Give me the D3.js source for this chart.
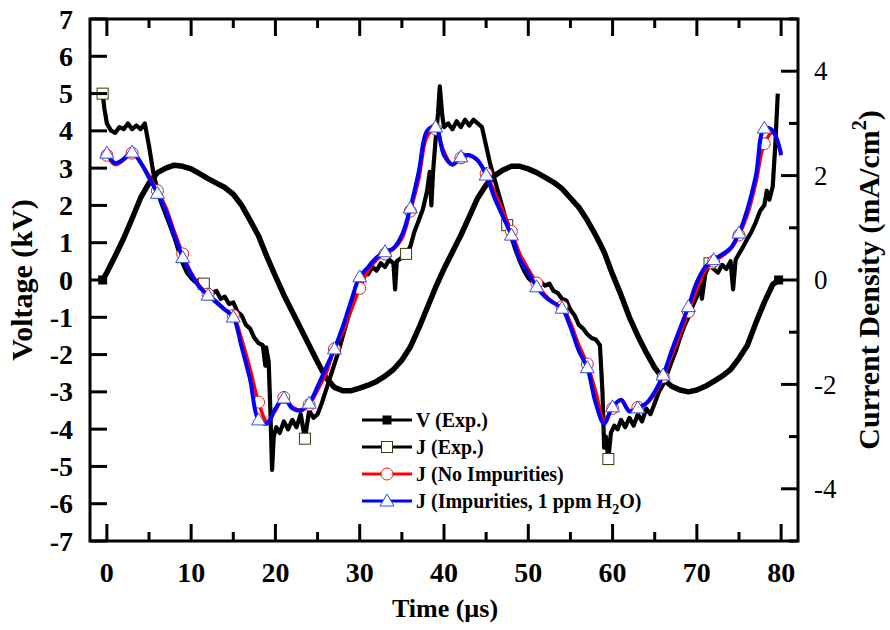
<!DOCTYPE html>
<html>
<head>
<meta charset="utf-8">
<script src="https://cdn.jsdelivr.net/npm/d3@7"></script>
<style>
  body { margin: 0; background: #fff; }
</style>
</head>
<body>
<svg id="chart" width="890" height="630"></svg>
<script>
// ---- Voltage, experiment (kV) ----
const vTime = [-0.5, 0, 1, 2, 3, 4, 5, 6, 7, 8, 9, 10, 11, 12, 13, 14, 15, 16, 17, 18, 19,
  20, 21, 22, 23, 24, 25, 26, 27, 28, 29, 30, 31, 32, 33, 34, 35, 36, 37, 38, 39,
  40, 41, 42, 43, 44, 45, 46, 47, 48, 49, 50, 51, 52, 53, 54, 55, 56, 57, 58, 59,
  60, 61, 62, 63, 64, 65, 66, 67, 68, 69, 70, 71, 72, 73, 74, 75, 76, 77, 78, 79, 79.7];
const vVolt = [0, 0.2, 0.65, 1.12, 1.65, 2.2, 2.6, 2.88, 3.0, 3.08, 3.05, 2.98, 2.85, 2.72, 2.6, 2.48, 2.3, 2.0, 1.6, 1.18, 0.62,
  0.1, -0.4, -0.85, -1.3, -1.75, -2.2, -2.62, -2.88, -2.97, -2.97, -2.9, -2.82, -2.72, -2.58, -2.4, -2.15, -1.8, -1.3, -0.75, -0.2,
  0.3, 0.75, 1.2, 1.7, 2.2, 2.55, 2.8, 2.95, 3.05, 3.05, 2.98, 2.88, 2.75, 2.62, 2.45, 2.2, 1.95, 1.6, 1.2, 0.75,
  0.15, -0.4, -1.0, -1.5, -1.95, -2.35, -2.65, -2.85, -2.95, -3.0, -2.95, -2.85, -2.72, -2.58, -2.4, -2.1, -1.75, -1.15, -0.6, -0.12, 0];
const vMarkerTime = [-0.5, 79.7];

// ---- Current density, experiment (mA/cm^2) ----
const jExpTime = [-0.5, -0.3, 0, 0.5, 1, 1.5, 2, 2.5, 3, 3.5, 4, 4.5, 5, 5.5, 6, 6.5, 7, 7.5, 8, 8.5, 9, 9.5,
  10, 10.5, 11, 11.5, 12, 12.5, 13, 13.5, 14, 14.5, 15, 15.5, 16, 16.5, 17, 17.5, 18, 18.5, 18.8, 18.9, 19.2, 19.4, 19.6, 19.8,
  20.1, 20.5, 21, 21.5, 22, 22.5, 23, 23.5, 24, 24.5, 25, 25.5, 26, 26.5, 27, 27.5, 28, 28.5, 29, 29.5,
  30, 30.5, 31, 31.5, 32, 32.5, 33, 33.5, 34, 34.2, 34.4, 35, 35.5, 36, 36.5, 37, 37.5, 38, 38.3, 38.5, 38.7, 39, 39.3, 39.5, 39.8,
  40, 40.5, 41, 41.5, 42, 42.5, 43, 43.5, 44, 44.5, 45, 45.5, 46, 46.5, 47, 47.5, 48, 48.5, 49, 49.5,
  50, 50.5, 51, 51.5, 52, 52.5, 53, 53.5, 54, 54.5, 55, 55.5, 56, 56.5, 57, 57.5, 58, 58.5, 58.8, 59, 59.2, 59.5, 59.8,
  60.2, 60.6, 61, 61.5, 62, 62.5, 63, 63.5, 64, 64.5, 65, 65.5, 66, 66.5, 67, 67.5, 68, 68.5, 69, 69.5,
  70, 70.3, 70.6, 71, 71.5, 72, 72.5, 73, 73.5, 74, 74.3, 74.6, 75, 75.5, 76, 76.5, 77, 77.5, 78, 78.3, 78.6, 79, 79.3, 79.6];
const jExpValues = [3.57, 3.29, 3.0, 2.86, 2.82, 2.93, 2.89, 3.0, 2.89, 2.96, 2.89, 3.0, 2.57, 2.07, 1.71, 1.46, 1.25, 1.04, 0.82, 0.57, 0.32, 0.14,
  0.04, -0.04, 0.0, -0.07, -0.18, -0.25, -0.21, -0.36, -0.32, -0.46, -0.43, -0.61, -0.68, -0.86, -0.93, -1.11, -1.21, -1.25, -1.64, -1.29, -1.57, -2.5, -3.64, -3.0,
  -2.82, -2.93, -2.71, -2.86, -2.68, -2.82, -2.57, -3.04, -2.5, -2.64, -2.57, -2.36, -2.11, -1.86, -1.61, -1.36, -1.07, -0.79, -0.5, -0.25,
  -0.04, 0.14, 0.11, 0.25, 0.18, 0.32, 0.25, 0.39, 0.32, -0.18, 0.36, 0.43, 0.5, 0.64, 0.93, 1.14, 1.36, 1.71, 2.07, 1.43, 2.07, 2.68, 3.21, 3.71, 3.14,
  2.93, 3.0, 2.89, 3.04, 2.93, 3.07, 2.96, 3.07, 3.0, 2.93, 2.57, 2.21, 1.93, 1.64, 1.36, 1.05, 0.82, 0.57, 0.36, 0.18,
  0.04, -0.04, -0.07, -0.04, -0.11, -0.07, -0.21, -0.25, -0.36, -0.39, -0.57, -0.68, -0.86, -0.93, -1.04, -1.11, -1.14, -1.25, -2.14, -3.21, -3.0, -3.43, -2.93,
  -2.79, -2.86, -2.68, -2.82, -2.64, -2.79, -2.57, -2.71, -2.46, -2.57, -2.36, -2.14, -2.0, -1.79, -1.57, -1.36, -1.11, -0.89, -0.71, -0.5,
  -0.32, -0.04, -0.36, 0.11, 0.32, 0.21, 0.14, 0.29, 0.21, 0.36, -0.18, 0.39, 0.5, 0.64, 0.79, 0.93, 1.11, 1.32, 1.43, 1.71, 1.54, 1.79, 2.57, 3.57];
const jExpMarkerTime = [-0.5, 11.5, 23.5, 35.5, 47.5, 59.5, 71.5];

// ---- Current density, simulations (mA/cm^2) ----
const simTime = [0, 1, 2, 3, 4, 5, 6, 7, 8, 9, 10, 11, 12, 13, 14, 15, 16, 17, 18, 19,
  20, 21, 22, 23, 24, 25, 26, 27, 28, 29, 30, 31, 32, 33, 34, 35, 36, 37, 38, 39,
  40, 41, 42, 43, 44, 45, 46, 47, 48, 49, 50, 51, 52, 53, 54, 55, 56, 57, 58, 59,
  60, 61, 62, 63, 64, 65, 66, 67, 68, 69, 70, 71, 72, 73, 74, 75, 76, 77, 78, 79, 80];
const jNoImpurities = [2.39, 2.21, 2.3, 2.43, 2.25, 2.0, 1.71, 1.39, 0.93, 0.5, 0.14, -0.11, -0.27, -0.41, -0.56, -0.68, -1.14, -1.71, -2.34, -2.71,
  -2.5, -2.25, -2.43, -2.49, -2.39, -2.11, -1.79, -1.32, -1.0, -0.57, -0.16, 0.18, 0.39, 0.5, 0.59, 0.79, 1.32, 1.93, 2.75, 2.89,
  2.46, 2.21, 2.34, 2.39, 2.29, 2.04, 1.68, 1.32, 0.93, 0.5, 0.21, -0.06, -0.29, -0.43, -0.51, -0.82, -1.25, -1.61, -2.14, -2.68,
  -2.46, -2.29, -2.5, -2.44, -2.37, -2.18, -1.86, -1.46, -1.04, -0.61, -0.18, 0.18, 0.36, 0.46, 0.59, 0.86, 1.25, 1.86, 2.61, 2.82, 2.43];
const jImpurities = [2.43, 2.24, 2.32, 2.45, 2.25, 1.96, 1.66, 1.32, 0.86, 0.43, 0.11, -0.14, -0.29, -0.43, -0.57, -0.71, -1.29, -1.91, -2.68, -2.75,
  -2.46, -2.26, -2.46, -2.5, -2.36, -2.04, -1.68, -1.32, -0.89, -0.39, 0.06, 0.25, 0.43, 0.54, 0.61, 0.86, 1.38, 2.07, 2.86, 2.93,
  2.39, 2.21, 2.36, 2.39, 2.29, 2.01, 1.57, 1.21, 0.86, 0.39, 0.14, -0.13, -0.32, -0.44, -0.54, -0.9, -1.36, -1.68, -2.36, -2.75,
  -2.43, -2.3, -2.52, -2.45, -2.36, -2.14, -1.82, -1.36, -0.93, -0.51, -0.04, 0.25, 0.39, 0.49, 0.61, 0.9, 1.36, 2.0, 2.91, 2.86, 2.39];
const simMarkerTime = [0, 3, 6, 9, 12, 15, 18, 21, 24, 27, 30, 33, 36, 39, 42, 45, 48, 51, 54, 57, 60, 63, 66, 69, 72, 75, 78];

// ---- Axis ticks and labels ----
const timeTicks = [0, 10, 20, 30, 40, 50, 60, 70, 80];
const timeMinorTicks = [5, 15, 25, 35, 45, 55, 65, 75];
const voltTicks = [-7, -6, -5, -4, -3, -2, -1, 0, 1, 2, 3, 4, 5, 6, 7];
const currentTicks = [-4, -2, 0, 2, 4];
const currentMinorTicks = [-5, -3, -1, 1, 3, 5];
const legendLabels = ["V (Exp.)", "J (Exp.)", "J (No Impurities)", "J (Impurities, 1 ppm H|2|O)"];

// ---- Layout ----
const FONT = "'Liberation Serif', 'DejaVu Serif', serif";
const svg = d3.select("#chart").attr("font-family", FONT);
const plotLeft = 90, plotRight = 798, plotTop = 19, plotBottom = 541;

const x = d3.scaleLinear().domain([-2, 82]).range([plotLeft, plotRight]);
const yV = d3.scaleLinear().domain([-7, 7]).range([plotBottom, plotTop]);
const yJ = d3.scaleLinear().domain([-5, 5]).range([plotBottom, plotTop]);

const plot = svg.append("g");

// Experimental voltage
const vData = vTime.map((t, i) => ({ t, v: vVolt[i] }));
plot.append("path")
  .datum(vData)
  .attr("fill", "none").attr("stroke", "#000").attr("stroke-width", 5.5)
  .attr("stroke-linejoin", "round")
  .attr("d", d3.line().x(d => x(d.t)).y(d => yV(d.v)));
plot.selectAll(".vmark").data(vData.filter(d => vMarkerTime.includes(d.t)))
  .join("rect")
  .attr("x", d => x(d.t) - 4.5).attr("y", d => yV(d.v) - 4.5)
  .attr("width", 9).attr("height", 9).attr("fill", "#000");

// Experimental current density
const jExpData = jExpTime.map((t, i) => ({ t, j: jExpValues[i] }));
plot.append("path")
  .datum(jExpData)
  .attr("fill", "none").attr("stroke", "#000").attr("stroke-width", 4.2)
  .attr("stroke-linejoin", "round")
  .attr("d", d3.line().x(d => x(d.t)).y(d => yJ(d.j)));
plot.selectAll(".jmark").data(jExpData.filter(d => jExpMarkerTime.includes(d.t)))
  .join("rect")
  .attr("x", d => x(d.t) - 5.5).attr("y", d => yJ(d.j) - 5.5)
  .attr("width", 11).attr("height", 11)
  .attr("fill", "#fff").attr("stroke", "#3a3a00").attr("stroke-width", 1);

// Simulated current densities
const simLine = d3.line().curve(d3.curveCatmullRom.alpha(0.5)).x(d => x(d.t)).y(d => yJ(d.j));
const redData = simTime.map((t, i) => ({ t, j: jNoImpurities[i] }));
const blueData = simTime.map((t, i) => ({ t, j: jImpurities[i] }));

plot.append("path").datum(redData)
  .attr("fill", "none").attr("stroke", "#ff0000").attr("stroke-width", 3.5)
  .attr("d", simLine);
plot.selectAll(".rmark").data(redData.filter(d => simMarkerTime.includes(d.t)))
  .join("circle")
  .attr("cx", d => x(d.t)).attr("cy", d => yJ(d.j)).attr("r", 6)
  .attr("fill", "#fff").attr("stroke", "#e02020").attr("stroke-width", 1);

plot.append("path").datum(blueData)
  .attr("fill", "none").attr("stroke", "#0000ff").attr("stroke-width", 4)
  .attr("d", simLine);
const tri = (cx, cy) => `M${cx - 7},${cy + 5}L${cx + 7},${cy + 5}L${cx},${cy - 7}Z`;
plot.selectAll(".bmark").data(blueData.filter(d => simMarkerTime.includes(d.t)))
  .join("path")
  .attr("d", d => tri(x(d.t), yJ(d.j)))
  .attr("fill", "#fff").attr("stroke", "#3050e0").attr("stroke-width", 1);

// ---- Frame and ticks ----
const axes = svg.append("g").attr("stroke", "#000").attr("stroke-width", 3);
axes.append("rect").attr("x", plotLeft).attr("y", plotTop)
  .attr("width", plotRight - plotLeft).attr("height", plotBottom - plotTop)
  .attr("fill", "none").attr("stroke-linejoin", "miter");

const majorLen = 17, minorLen = 9;
timeTicks.forEach(t => {
  axes.append("line").attr("x1", x(t)).attr("x2", x(t)).attr("y1", plotBottom).attr("y2", plotBottom - majorLen);
  axes.append("line").attr("x1", x(t)).attr("x2", x(t)).attr("y1", plotTop).attr("y2", plotTop + majorLen);
});
timeMinorTicks.forEach(t => {
  axes.append("line").attr("x1", x(t)).attr("x2", x(t)).attr("y1", plotBottom).attr("y2", plotBottom - minorLen);
  axes.append("line").attr("x1", x(t)).attr("x2", x(t)).attr("y1", plotTop).attr("y2", plotTop + minorLen);
});
voltTicks.forEach(v => {
  axes.append("line").attr("x1", plotLeft).attr("x2", plotLeft + majorLen).attr("y1", yV(v)).attr("y2", yV(v));
});
currentTicks.forEach(j => {
  axes.append("line").attr("x1", plotRight).attr("x2", plotRight - majorLen).attr("y1", yJ(j)).attr("y2", yJ(j));
});
currentMinorTicks.forEach(j => {
  axes.append("line").attr("x1", plotRight).attr("x2", plotRight - minorLen).attr("y1", yJ(j)).attr("y2", yJ(j));
});

// ---- Tick labels ----
const labels = svg.append("g").attr("fill", "#000").style("font-family", FONT);
timeTicks.forEach(t => {
  labels.append("text").attr("x", x(t)).attr("y", 582)
    .attr("text-anchor", "middle").attr("font-size", 28).attr("font-weight", "bold").text(t);
});
voltTicks.forEach(v => {
  labels.append("text").attr("x", 73).attr("y", yV(v)).attr("dy", "0.34em")
    .attr("text-anchor", "end").attr("font-size", 28).attr("font-weight", "bold").text(v);
});
currentTicks.forEach(j => {
  labels.append("text").attr("x", 814).attr("y", yJ(j)).attr("dy", "0.34em")
    .attr("text-anchor", "start").attr("font-size", 27).text(j);
});

// ---- Axis titles ----
labels.append("text").attr("x", 445).attr("y", 617).attr("text-anchor", "middle")
  .attr("font-size", 26).attr("font-weight", "bold").text("Time (µs)");
labels.append("text").attr("transform", `translate(32,${(plotTop + plotBottom) / 2}) rotate(-90)`)
  .attr("text-anchor", "middle").attr("font-size", 30).attr("font-weight", "bold").text("Voltage (kV)");
const rt = labels.append("text").attr("transform", `translate(879,${(plotTop + plotBottom) / 2}) rotate(-90)`)
  .attr("text-anchor", "middle").attr("font-size", 30).attr("font-weight", "bold");
rt.append("tspan").text("Current Density (mA/cm");
rt.append("tspan").attr("dy", -13).attr("font-size", 20).text("2");
rt.append("tspan").attr("dy", 13).text(")");

// ---- Legend ----
const legend = svg.append("g").style("font-family", FONT);
const legendStyles = [
  { stroke: "#000", marker: "filled-square" },
  { stroke: "#000", marker: "square" },
  { stroke: "#ff0000", marker: "circle" },
  { stroke: "#0000ff", marker: "triangle" }
];
legendLabels.forEach((label, i) => {
  const y = 420 + i * 27;
  const s = legendStyles[i];
  legend.append("line").attr("x1", 362).attr("x2", 412).attr("y1", y).attr("y2", y)
    .attr("stroke", s.stroke).attr("stroke-width", 3);
  const cx = 387;
  if (s.marker === "filled-square") {
    legend.append("rect").attr("x", cx - 4.5).attr("y", y - 4.5).attr("width", 9).attr("height", 9).attr("fill", "#000");
  } else if (s.marker === "square") {
    legend.append("rect").attr("x", cx - 5.5).attr("y", y - 5.5).attr("width", 11).attr("height", 11)
      .attr("fill", "#fff").attr("stroke", "#3a3a00").attr("stroke-width", 1);
  } else if (s.marker === "circle") {
    legend.append("circle").attr("cx", cx).attr("cy", y).attr("r", 6)
      .attr("fill", "#fff").attr("stroke", "#e02020").attr("stroke-width", 1);
  } else {
    legend.append("path").attr("d", tri(cx, y)).attr("fill", "#fff").attr("stroke", "#3050e0").attr("stroke-width", 1);
  }
  const txt = legend.append("text").attr("x", 416).attr("y", y).attr("dy", "0.35em")
    .attr("font-size", 20).attr("font-weight", "bold");
  const parts = label.split("|");
  if (parts.length === 3) {
    txt.append("tspan").text(parts[0]);
    txt.append("tspan").attr("dy", 6).attr("font-size", 14).text(parts[1]);
    txt.append("tspan").attr("dy", -6).text(parts[2]);
  } else {
    txt.text(label);
  }
});
</script>
</body>
</html>
